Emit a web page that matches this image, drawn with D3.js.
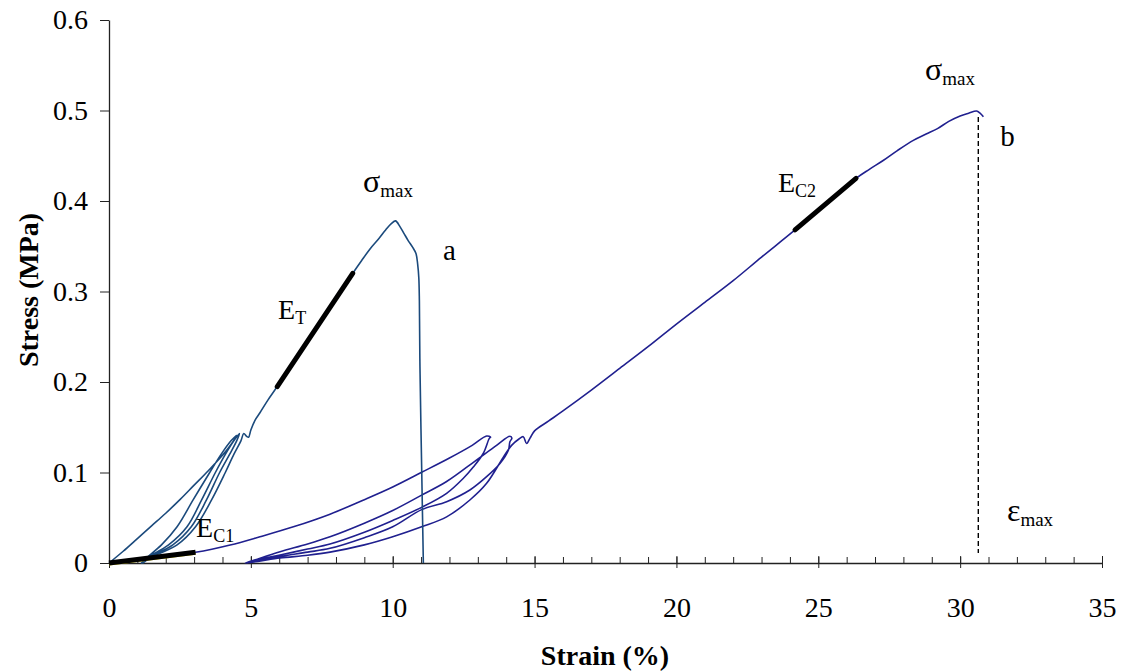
<!DOCTYPE html>
<html><head><meta charset="utf-8">
<script src="https://cdn.jsdelivr.net/npm/d3@7"></script>
<style>body{margin:0;background:#fff} svg{display:block} text{font-family:"Liberation Serif","Times New Roman",serif}</style>
</head><body>
<svg id="chart" width="1125" height="671"></svg>
<script>
// ---- data ----
const xTickValues = [0, 5, 10, 15, 20, 25, 30, 35];
const xTickLabels = ["0", "5", "10", "15", "20", "25", "30", "35"];
const xMinorTicks = d3.range(0, 36, 1);
const yTickValues = [0, 0.1, 0.2, 0.3, 0.4, 0.5, 0.6];
const yTickLabels = ["0", "0.1", "0.2", "0.3", "0.4", "0.5", "0.6"];

// curve a: cyclic loading then tension to failure
const strainA = [0,0.5,1,1.5,2,2.5,3,3.5,4,4.3,4.5,
  4.3,3.95,3.55,2.97,2.4,1.85,1.3,1.15,
  1.3,2.1,2.75,3.27,3.75,4.1,4.4,4.6,
  4.5,4.25,3.9,3.44,2.9,2.25,1.35,1.2,
  1.4,2.4,3.05,3.62,4.1,4.4,4.65,4.75,4.85,4.92,5.0,5.15,5.32,5.6,5.93,
  6.5,7,7.5,8,8.59,8.9,9.2,9.5,9.75,9.95,10.1,10.25,10.4,10.55,10.7,10.82,10.88,10.92,10.94,10.96,11.02,11.08];
const stressA = [0,0.013,0.027,0.041,0.055,0.070,0.086,0.102,0.119,0.131,0.141,
  0.135,0.12,0.10,0.07,0.04,0.02,0.005,0,
  0.005,0.02,0.04,0.07,0.10,0.12,0.135,0.143,
  0.135,0.12,0.10,0.07,0.04,0.02,0.005,0,
  0.005,0.02,0.04,0.07,0.10,0.12,0.135,0.143,0.140,0.139,0.147,0.158,0.166,0.180,0.195,
  0.222,0.245,0.270,0.294,0.320,0.334,0.347,0.358,0.368,0.375,0.378,0.372,0.364,0.356,0.349,0.342,0.330,0.315,0.290,0.217,0.106,0];

// curve b: cyclic loading then long loading to sigma max
const strainB = [0,1,2,3.05,4.27,5.32,6.5,7.79,9,10,11.02,12,12.8,13.31,13.45,
  13.41,13.19,12.84,12.49,11.9,11.02,10,9,7.79,7,6.03,5.3,4.8,
  5.3,6.03,7,7.79,9,10,11.02,11.9,12.96,13.66,14.13,14.2,
  14.13,14.08,13.78,13.31,12.72,11.9,11.02,10,9,7.79,7,6.03,5.3,4.85,
  5.3,6.03,7,7.79,9,10,11.02,11.9,12.72,13.31,13.9,14.19,14.45,14.6,14.72,14.84,15.0,
  15.5,16,17,18,19,20,21,22,23,24.18,26.33,
  26.8,27.3,27.8,28.35,28.8,29.2,29.6,30.0,30.3,30.58,30.7,30.82];
const stressB = [0,0.0035,0.0075,0.0118,0.0199,0.029,0.040,0.054,0.070,0.084,0.1002,0.116,0.130,0.1403,0.139,
  0.138,0.121,0.106,0.0936,0.077,0.0615,0.047,0.034,0.021,0.0155,0.0088,0.004,0,
  0.005,0.0125,0.021,0.029,0.044,0.058,0.075,0.090,0.114,0.130,0.140,0.138,
  0.134,0.125,0.110,0.0954,0.0807,0.0678,0.059,0.040,0.028,0.0162,0.012,0.0073,0.003,0,
  0.002,0.0055,0.0085,0.012,0.020,0.029,0.040,0.051,0.0696,0.088,0.117,0.130,0.137,0.1396,0.132,0.138,0.146,
  0.157,0.168,0.191,0.215,0.239,0.264,0.288,0.312,0.338,0.368,0.425,
  0.435,0.445,0.456,0.467,0.474,0.480,0.488,0.494,0.497,0.4994,0.497,0.493];

// modulus fit segments
const ec1Strain = [0, 3.05], ec1Stress = [0, 0.0118];
const etStrain = [5.93, 8.59], etStress = [0.195, 0.320];
const ec2Strain = [24.18, 26.33], ec2Stress = [0.368, 0.425];
const epsMaxStrain = 30.64, sigmaMaxB = 0.4994;

// ---- drawing ----
const FONT = "Liberation Serif";
const svg = d3.select("#chart");
const x = d3.scaleLinear().domain([0, 35]).range([109, 1102]);
const y = d3.scaleLinear().domain([0, 0.6]).range([563, 20]);
const axisColor = "#222";

// x axis: minor ticks (inside)
const gxm = svg.append("g").attr("transform", `translate(0,${y(0)})`)
  .call(d3.axisBottom(x).tickValues(xMinorTicks).tickSize(-6).tickSizeOuter(0).tickFormat(""));
gxm.select(".domain").attr("stroke", axisColor).attr("stroke-width", 1.3);
gxm.selectAll(".tick line").attr("stroke", axisColor);

// x axis: major ticks crossing the axis
const gx = svg.append("g").attr("transform", `translate(0,${y(0)})`)
  .call(d3.axisBottom(x).tickValues(xTickValues).tickSize(5).tickSizeOuter(0)
    .tickPadding(29).tickFormat((d, i) => xTickLabels[i]));
gx.attr("font-family", FONT);
gx.select(".domain").remove();
gx.selectAll(".tick line").attr("y1", -7).attr("y2", 5).attr("stroke", axisColor);
gx.selectAll(".tick text").attr("font-family", FONT).attr("font-size", 28).attr("fill", "#000");

// y axis
const gy = svg.append("g").attr("transform", `translate(${x(0)},0)`)
  .call(d3.axisLeft(y).tickValues(yTickValues).tickSize(9).tickSizeOuter(0)
    .tickPadding(12).tickFormat((d, i) => yTickLabels[i]));
gy.attr("font-family", FONT);
gy.select(".domain").attr("stroke", axisColor).attr("stroke-width", 1.3);
gy.selectAll(".tick line").attr("stroke", axisColor);
gy.selectAll(".tick text").attr("font-family", FONT).attr("font-size", 28).attr("fill", "#000");

// axis titles
svg.append("text").attr("x", 605).attr("y", 665).attr("text-anchor", "middle")
  .attr("font-family", FONT).attr("font-weight", "bold").attr("font-size", 28).text("Strain (%)");
svg.append("text").attr("transform", "translate(38,290) rotate(-90)").attr("text-anchor", "middle")
  .attr("font-family", FONT).attr("font-weight", "bold").attr("font-size", 28).text("Stress (MPa)");

const line = d3.line().x(d => x(d[0])).y(d => y(d[1])).curve(d3.curveCatmullRom.alpha(0.5));
const straight = d3.line().x(d => x(d[0])).y(d => y(d[1]));
const zip = (a, b) => a.map((v, i) => [v, b[i]]);

// curve b
svg.append("path").datum(zip(strainB, stressB)).attr("d", line)
  .attr("fill", "none").attr("stroke", "#20208f").attr("stroke-width", 1.6).attr("stroke-linejoin", "round");
// curve a
svg.append("path").datum(zip(strainA, stressA)).attr("d", line)
  .attr("fill", "none").attr("stroke", "#1b4a7c").attr("stroke-width", 1.6).attr("stroke-linejoin", "round");

// E_C1 (yellow underlay + black fit)
svg.append("path").datum(zip(ec1Strain, ec1Stress)).attr("d", straight)
  .attr("fill", "none").attr("stroke", "#e8d800").attr("stroke-width", 2).attr("transform", "translate(0,1.5)");
svg.append("path").datum(zip(ec1Strain, ec1Stress)).attr("d", straight)
  .attr("fill", "none").attr("stroke", "#000").attr("stroke-width", 5);
// E_T, E_C2
[[etStrain, etStress], [ec2Strain, ec2Stress]].forEach(([s, t]) => {
  svg.append("path").datum(zip(s, t)).attr("d", straight)
    .attr("fill", "none").attr("stroke", "#000").attr("stroke-width", 5).attr("stroke-linecap", "round");
});

// dashed eps max line
svg.append("line").attr("x1", x(epsMaxStrain)).attr("x2", x(epsMaxStrain))
  .attr("y1", y(sigmaMaxB) + 6).attr("y2", y(0) - 10)
  .attr("stroke", "#000").attr("stroke-width", 1.4).attr("stroke-dasharray", "5,3");

// annotations
function label(px, py, main, sub, mainSize, subSize) {
  const t = svg.append("text").attr("x", px).attr("y", py).attr("font-family", FONT)
    .attr("font-size", mainSize).attr("fill", "#000");
  t.append("tspan").text(main);
  if (sub) t.append("tspan").attr("font-size", subSize).attr("dy", 5).text(sub);
}
label(x(8.95), y(0.41), "σ", "max", 32, 19);
label(x(11.77), y(0.335), "a", null, 29);
label(x(5.96), y(0.27), "E", "T", 28, 18);
label(x(3.07), y(0.0287), "E", "C1", 28, 18);
label(x(23.58), y(0.41), "E", "C2", 28, 18);
label(x(28.76), y(0.534), "σ", "max", 32, 19);
label(x(31.41), y(0.461), "b", null, 29);
label(x(31.65), y(0.0464), "ε", "max", 32, 19);
</script>
</body></html>
